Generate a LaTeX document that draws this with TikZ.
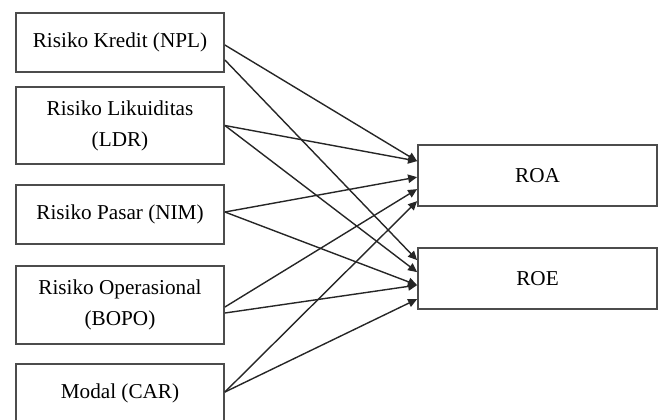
\documentclass[tikz,border=0pt]{standalone}
\usepackage{fontspec}
\setmainfont{Liberation Serif}
\usetikzlibrary{arrows.meta,calc}

\tikzset{
  kotak/.style={draw=black!70, line width=0.9pt, fill=white, align=center, inner sep=0pt},
  kiri/.style={kotak, minimum width=104pt},
  kanan/.style={kotak, minimum width=119.5pt, minimum height=30.5pt},
  panah/.style={-{Triangle[length=4.5pt,width=4.2pt]}, line width=0.7pt, black!85}
}

\begin{document}
\begin{tikzpicture}[x=0.5pt, y=-0.5pt, font=\fontsize{10.6}{15.5}\selectfont]
\useasboundingbox (0,0) rectangle (662,419);

% Variabel bebas
\node[kiri, minimum height=29.5pt] (npl) at (120,42.5) {Risiko Kredit (NPL)};
\node[kiri, minimum height=38.5pt] (ldr) at (120,125.5) {Risiko Likuiditas\\(LDR)};
\node[kiri, minimum height=29.5pt] (nim) at (120,214.5) {Risiko Pasar (NIM)};
\node[kiri, minimum height=39pt] (bopo) at (120,305) {Risiko Operasional\\(BOPO)};
\node[kiri, minimum height=29.5pt] (car) at (120,393.5) {Modal (CAR)};

% Variabel terikat
\node[kanan] (roa) at (537.5,175.5) {ROA};
\node[kanan] (roe) at (537.5,278.5) {ROE};

% Panah ke ROA
\draw[panah] ($(npl.east)+(0,2.5)$) -- ($(roa.north west)+(0,17)$);
\draw[panah] (ldr.east) -- ($(roa.north west)+(0,17)$);
\draw[panah] ($(nim.east)+(0,-2.5)$) -- ($(roa.north west)+(0,33)$);
\draw[panah] ($(bopo.east)+(0,2)$) -- ($(roa.north west)+(0,45)$);
\draw[panah] ($(car.east)+(0,-1.5)$) -- ($(roa.north west)+(0,57)$);

% Panah ke ROE
\draw[panah] ($(npl.east)+(0,17.5)$) -- ($(roe.north west)+(0,13)$);
\draw[panah] (ldr.east) -- ($(roe.north west)+(0,25)$);
\draw[panah] ($(nim.east)+(0,-2.5)$) -- ($(roe.north west)+(0,38)$);
\draw[panah] ($(bopo.east)+(0,8)$) -- ($(roe.north west)+(0,38)$);
\draw[panah] ($(car.east)+(0,-1.5)$) -- ($(roe.north west)+(0,52)$);

\end{tikzpicture}
\end{document}
